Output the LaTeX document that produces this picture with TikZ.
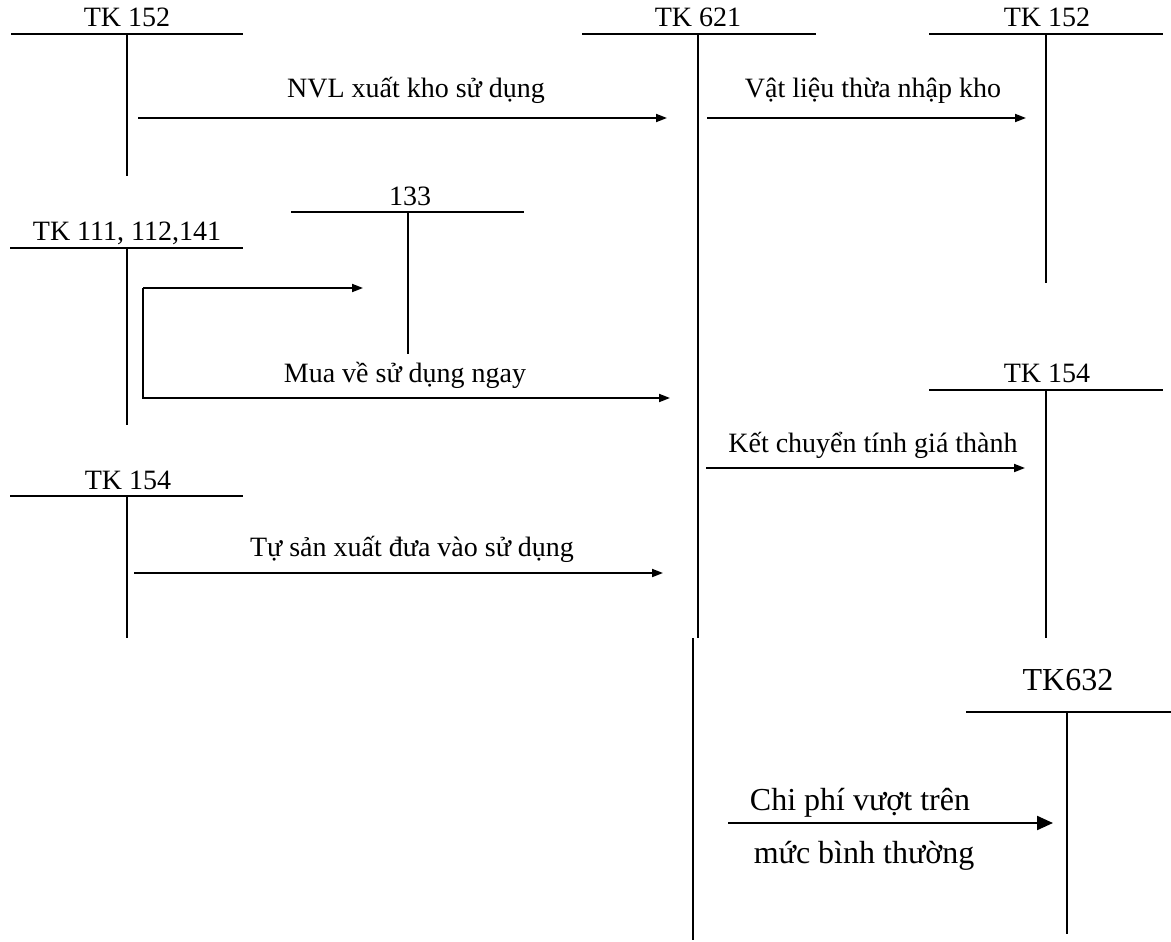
\documentclass[tikz,border=0pt]{standalone}
\usepackage{fontspec}
\setmainfont{Liberation Serif}
\usetikzlibrary{arrows.meta}
\begin{document}
\begin{tikzpicture}[x=1pt,y=-1pt,
  tline/.style={line width=2pt},
  thinline/.style={line width=1.5pt},
  flow/.style={line width=1.9pt,-{Triangle[length=11pt,width=8pt]}},
  bigflow/.style={line width=2.2pt,-{Triangle[length=16pt,width=14pt]}},
  lbl/.style={anchor=base,inner sep=0pt,font=\fontsize{28}{34}\selectfont},
  biglbl/.style={anchor=base,inner sep=0pt,font=\fontsize{32}{38}\selectfont}]
\useasboundingbox (0,0) rectangle (1171,942);

% ---- TK 152 (left top)
\node[lbl] (n152a) at (127,27) {TK 152};
\coordinate (a1L) at (11,34);  \coordinate (a1R) at (243,34);
\coordinate (a1T) at (127,34); \coordinate (a1B) at (127,176);
\draw[tline] (a1L) -- (a1R); \draw[tline] (a1T) -- (a1B);

% ---- TK 621
\node[lbl] (n621) at (698,27) {TK 621};
\coordinate (a2L) at (582,34);  \coordinate (a2R) at (816,34);
\coordinate (a2T) at (698,34);  \coordinate (a2B) at (698,638);
\coordinate (a2T2) at (693,638); \coordinate (a2B2) at (693,940);
\draw[tline] (a2L) -- (a2R); \draw[tline] (a2T) -- (a2B);
\draw[thinline] (a2T2) -- (a2B2);

% ---- TK 152 (right top)
\node[lbl] (n152b) at (1047,27) {TK 152};
\coordinate (a3L) at (929,34);   \coordinate (a3R) at (1163,34);
\coordinate (a3T) at (1046,34);  \coordinate (a3B) at (1046,283);
\draw[tline] (a3L) -- (a3R); \draw[tline] (a3T) -- (a3B);

% ---- 133
\node[lbl] (n133) at (410,205) {133};
\coordinate (a4L) at (291,212);  \coordinate (a4R) at (524,212);
\coordinate (a4T) at (408,212);  \coordinate (a4B) at (408,354);
\draw[tline] (a4L) -- (a4R); \draw[tline] (a4T) -- (a4B);

% ---- TK 111, 112,141
\node[lbl] (n111) at (127,240) {TK 111, 112,141};
\coordinate (a5L) at (10,248);   \coordinate (a5R) at (243,248);
\coordinate (a5T) at (127,248);  \coordinate (a5B) at (127,425);
\draw[tline] (a5L) -- (a5R); \draw[tline] (a5T) -- (a5B);

% ---- TK 154 (left)
\node[lbl] (n154a) at (128,489) {TK 154};
\coordinate (a6L) at (10,496);   \coordinate (a6R) at (243,496);
\coordinate (a6T) at (127,496);  \coordinate (a6B) at (127,638);
\draw[tline] (a6L) -- (a6R); \draw[tline] (a6T) -- (a6B);

% ---- TK 154 (right)
\node[lbl] (n154b) at (1047,382) {TK 154};
\coordinate (a7L) at (929,390);  \coordinate (a7R) at (1163,390);
\coordinate (a7T) at (1046,390); \coordinate (a7B) at (1046,638);
\draw[tline] (a7L) -- (a7R); \draw[tline] (a7T) -- (a7B);

% ---- TK632
\node[biglbl] (n632) at (1068,690) {TK632};
\coordinate (a8L) at (966,712);  \coordinate (a8R) at (1171,712);
\coordinate (a8T) at (1067,712); \coordinate (a8B) at (1067,934);
\draw[thinline] (a8L) -- (a8R); \draw[thinline] (a8T) -- (a8B);

% ---- flows
\coordinate (f1s) at (138,118); \coordinate (f1e) at (667,118);
\draw[flow] (f1s) -- (f1e);
\node[lbl] (t1) at (416,98) {NVL xuất kho sử dụng};

\coordinate (f2s) at (707,118); \coordinate (f2e) at (1026,118);
\draw[flow] (f2s) -- (f2e);
\node[lbl] (t2) at (873,98) {Vật liệu thừa nhập kho};

\coordinate (f3s) at (143,288); \coordinate (f3e) at (363,288);
\coordinate (f3c) at (143,398); \coordinate (f3f) at (670,398);
\draw[flow] (f3s) -- (f3e);
\draw[flow] (f3s) -- (f3c) -- (f3f);
\node[lbl] (t3) at (405,382) {Mua về sử dụng ngay};

\coordinate (f4s) at (706,468); \coordinate (f4e) at (1025,468);
\draw[flow] (f4s) -- (f4e);
\node[lbl] (t4) at (873,452) {Kết chuyển tính giá thành};

\coordinate (f5s) at (134,573); \coordinate (f5e) at (663,573);
\draw[flow] (f5s) -- (f5e);
\node[lbl] (t5) at (412,556) {Tự sản xuất đưa vào sử dụng};

\coordinate (f6s) at (728,823); \coordinate (f6e) at (1053,823);
\draw[bigflow] (f6s) -- (f6e);
\node[biglbl] (t6a) at (860,810) {Chi phí vượt trên};
\node[biglbl] (t6b) at (864,863) {mức bình thường};
\end{tikzpicture}
\end{document}
